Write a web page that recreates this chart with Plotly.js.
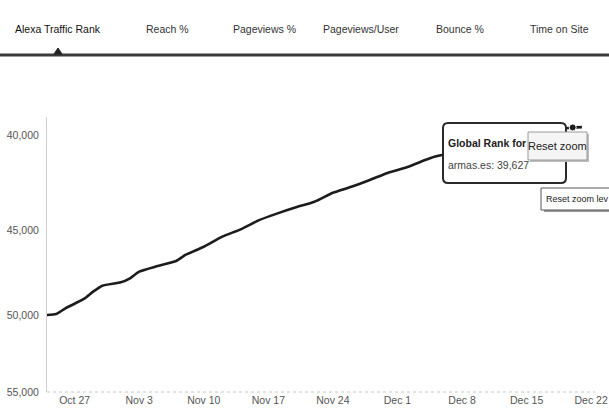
<!DOCTYPE html>
<html>
<head>
<meta charset="utf-8">
<script src="https://cdn.plot.ly/plotly-3.0.1.min.js"></script>
<style>
  html, body { margin: 0; padding: 0; background: #fff; }
  #chart { width: 609px; height: 411px; }
</style>
</head>
<body>
<div id="chart"></div>
<script>
// ---- data ----
const dates = [
  '2013-10-24','2013-10-25','2013-10-26','2013-10-28','2013-10-29','2013-10-30',
  '2013-11-01','2013-11-02','2013-11-03','2013-11-05','2013-11-07','2013-11-08',
  '2013-11-10','2013-11-12','2013-11-14','2013-11-16','2013-11-18','2013-11-20',
  '2013-11-22','2013-11-24','2013-11-26','2013-11-28','2013-11-30','2013-12-02',
  '2013-12-04','2013-12-05','2013-12-08','2013-12-11','2013-12-14','2013-12-17',
  '2013-12-20','2013-12-21'
];
const ranks = [
  49990, 49930, 49580, 49010, 48570, 48210,
  48010, 47770, 47380, 47050, 46760, 46410,
  45940, 45370, 44960, 44450, 44080, 43750,
  43450, 42970, 42650, 42290, 41910, 41630,
  41260, 41090, 40800, 40450, 40100, 39800,
  39627, 39610
];
const hoverIndex = 30;
const xTickVals = ['2013-10-27','2013-11-03','2013-11-10','2013-11-17','2013-11-24','2013-12-01','2013-12-08','2013-12-15','2013-12-22'];
const xTickText = ['Oct 27','Nov 3','Nov 10','Nov 17','Nov 24','Dec 1','Dec 8','Dec 15','Dec 22'];
const yTickVals = [40000, 45000, 50000, 55000];
const yTickText = ['40,000','45,000','50,000','55,000'];
const tabLabels = ['Alexa Traffic Rank','Reach %','Pageviews %','Pageviews/User','Bounce %','Time on Site'];
const siteName = 'armas.es';

// ---- layout helpers (pixel -> paper) ----
const W = 609, H = 411, L = 47, R = 14, T = 117, B = 19;
const PW = W - L - R, PH = H - T - B;
const px = x => (x - L) / PW;
const py = y => (H - B - y) / PH;

function roundRect(x0, y0, x1, y1, r) {
  const rx = r / PW, ry = r / PH;
  const X0 = px(x0), X1 = px(x1), Y0 = py(y1), Y1 = py(y0);
  return `M${X0+rx},${Y1} L${X1-rx},${Y1} Q${X1},${Y1} ${X1},${Y1-ry} ` +
         `L${X1},${Y0+ry} Q${X1},${Y0} ${X1-rx},${Y0} L${X0+rx},${Y0} ` +
         `Q${X0},${Y0} ${X0},${Y0+ry} L${X0},${Y1-ry} Q${X0},${Y1} ${X0+rx},${Y1} Z`;
}

const FONT = '"Liberation Sans", Arial, sans-serif';

const traces = [
  {
    x: dates, y: ranks, type: 'scatter', mode: 'lines',
    line: { color: '#1c1c1c', width: 2.6, shape: 'spline', smoothing: 0.6 },
    hoverinfo: 'skip'
  },
  {
    x: [dates[hoverIndex]], y: [ranks[hoverIndex]], type: 'scatter', mode: 'markers',
    marker: { color: '#1c1c1c', size: 7, line: { color: '#ffffff', width: 1 } },
    hoverinfo: 'skip'
  }
];

const tabX = [58, 167, 264, 361, 460, 559];
const annotations = tabLabels.map((t, i) => ({
  text: t, xref: 'paper', yref: 'paper', x: px(tabX[i]), y: py(29),
  xanchor: 'center', yanchor: 'middle', showarrow: false,
  font: { family: FONT, size: 10.5, color: i === 0 ? '#111' : '#333' }
}));

annotations.push(
  { text: '<b>Global Rank for</b>', xref: 'paper', yref: 'paper', x: px(446), y: py(143),
    xanchor: 'left', yanchor: 'middle', showarrow: false,
    font: { family: FONT, size: 10.5, color: '#222' } },
  { text: siteName + ': ' + ranks[hoverIndex].toLocaleString('en-US'), xref: 'paper', yref: 'paper',
    x: px(446), y: py(165), xanchor: 'left', yanchor: 'middle', showarrow: false,
    font: { family: FONT, size: 10.5, color: '#444' } },
  { text: 'Reset zoom', xref: 'paper', yref: 'paper', x: px(557.5), y: py(146),
    xanchor: 'center', yanchor: 'middle', showarrow: false,
    font: { family: FONT, size: 11, color: '#222' } },
  { text: 'Reset zoom lev', xref: 'paper', yref: 'paper', x: px(544), y: py(199),
    xanchor: 'left', yanchor: 'middle', showarrow: false,
    font: { family: FONT, size: 9, color: '#222' } }
);

const shapes = [
  { type: 'line', xref: 'paper', yref: 'paper', x0: px(0), x1: px(609), y0: py(55), y1: py(55),
    line: { color: '#3a3a3a', width: 3 } },
  { type: 'path', xref: 'paper', yref: 'paper',
    path: `M${px(54)},${py(54)} L${px(58)},${py(48)} L${px(62)},${py(54)} Z`,
    fillcolor: '#222', line: { color: '#222', width: 1 } },
  { type: 'line', xref: 'paper', yref: 'paper', x0: 0, x1: 1, y0: 0, y1: 0,
    line: { color: '#c8c8c8', width: 1, dash: 'dot' }, layer: 'below' },
  { type: 'path', xref: 'paper', yref: 'paper', path: roundRect(443, 123, 566, 183, 5),
    fillcolor: '#ffffff', line: { color: '#2a2a2a', width: 2 } },
  { type: 'rect', xref: 'paper', yref: 'paper', x0: px(530), x1: px(589), y0: py(162), y1: py(134),
    fillcolor: '#bdbdbd', line: { width: 0 } },
  { type: 'rect', xref: 'paper', yref: 'paper', x0: px(528), x1: px(587), y0: py(160), y1: py(132),
    fillcolor: '#f5f5f5', line: { color: '#9a9a9a', width: 1 } },
  { type: 'rect', xref: 'paper', yref: 'paper', x0: px(544), x1: px(625), y0: py(212), y1: py(190),
    fillcolor: '#9a9a9a', line: { width: 0 } },
  { type: 'rect', xref: 'paper', yref: 'paper', x0: px(541), x1: px(625), y0: py(210), y1: py(188),
    fillcolor: '#ffffff', line: { color: '#555', width: 1 } }
];

const layout = {
  width: W, height: H,
  margin: { l: L, r: R, t: T, b: B, pad: 0 },
  paper_bgcolor: '#ffffff', plot_bgcolor: '#ffffff',
  showlegend: false, hovermode: false,
  font: { family: FONT, size: 10.5, color: '#555' },
  xaxis: {
    type: 'date', range: ['2013-10-24', '2013-12-22 10:00'],
    tickvals: xTickVals, ticktext: xTickText,
    showgrid: false, zeroline: false, showline: false, ticks: '',
    tickfont: { family: FONT, size: 10.5, color: '#555' }, fixedrange: true
  },
  yaxis: {
    type: 'log', range: [Math.log10(55000), Math.log10(39117)],
    tickvals: yTickVals, ticktext: yTickText,
    showgrid: false, zeroline: false, showline: true, linecolor: '#d0d0d0', linewidth: 1,
    ticks: '', ticklabelstandoff: 5,
    tickfont: { family: FONT, size: 10.5, color: '#555' }, fixedrange: true
  },
  annotations: annotations,
  shapes: shapes
};

Plotly.newPlot('chart', traces, layout, { displayModeBar: false, staticPlot: true });
</script>
</body>
</html>
